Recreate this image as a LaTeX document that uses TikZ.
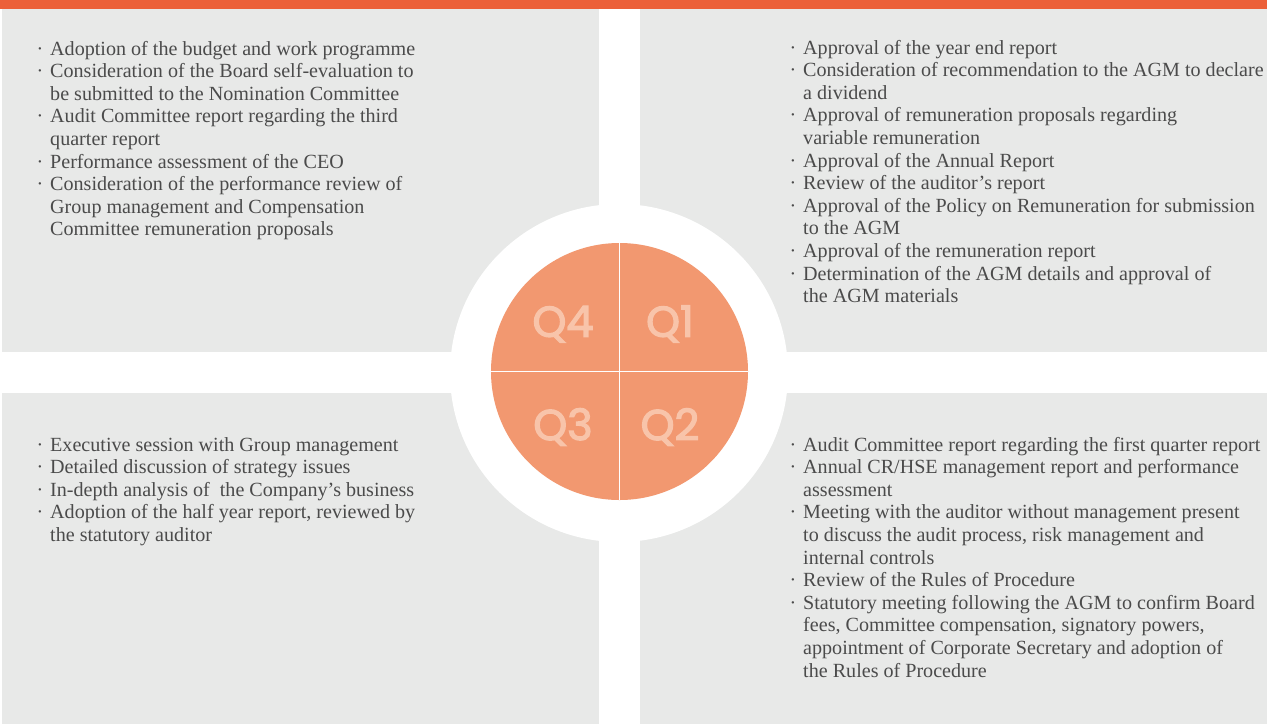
\documentclass[tikz,border=0pt]{standalone}
\usepackage{fontspec}
\setmainfont{Liberation Serif}
\newfontfamily\qfont[FakeBold=3]{Poppins}
\definecolor{barorange}{HTML}{EC6039}
\definecolor{panelgrey}{HTML}{E8E9E8}
\definecolor{discorange}{HTML}{F29870}
\definecolor{qpeach}{HTML}{F8C4AA}
\definecolor{bodytext}{HTML}{4B4B4B}
\newcommand{\bul}{\llap{·\hspace{7pt}}}
% item lists are anchored at the baseline of their last line
\tikzset{
  panel/.style={fill=panelgrey},
  itemlist/.style={anchor=base west, align=left, inner sep=0pt, text=bodytext,
    font=\fontsize{20.1}{22.6}\selectfont},
  quarter/.style={text=qpeach, inner sep=0pt, font=\qfont\fontsize{43}{43}\selectfont}
}
\begin{document}
\begin{tikzpicture}[x=1pt,y=-1pt]
\useasboundingbox (0,0) rectangle (1267,724);
\fill[white] (0,0) rectangle (1267,724);
% header bar and the four grey quadrants
\fill[barorange] (0,0) rectangle (1267,9.3);
\fill[panel] (2,9.3) rectangle (599,352);
\fill[panel] (640,9.3) rectangle (1267,352);
\fill[panel] (2,393) rectangle (599,724);
\fill[panel] (640,393) rectangle (1267,724);
% central year wheel
\node[circle, fill=white, minimum size=338pt, inner sep=0pt] (ring) at (619,373) {};
\node[circle, fill=discorange, minimum size=257pt, inner sep=0pt] (disc) at (619.5,371.5) {};
\draw[white, line width=1.6pt] (disc.west) -- (disc.east);
\draw[white, line width=1.6pt] (disc.north) -- (disc.south);
\node[quarter, anchor=base] (q4) at (563,336.7) {Q4};
\node[quarter, anchor=base] (q1) at (670,336.7) {Q1};
\node[quarter, anchor=base] (q3) at (563,440) {Q3};
\node[quarter, anchor=base] (q2) at (670,440) {Q2};
% agenda items per quarter
\node[itemlist] (q4items) at (50,235.8) {%
\bul Adoption of the budget and work programme\\
\bul Consideration of the Board self-evaluation to\\
be submitted to the Nomination Committee\\
\bul Audit Committee report regarding the third\\
quarter report\\
\bul Performance assessment of the CEO\\
\bul Consideration of the performance review of\\
Group management and Compensation\\
Committee remuneration proposals};
\node[itemlist] (q1items) at (803,302.6) {%
\bul Approval of the year end report\\
\bul Consideration of recommendation to the AGM to declare\\
a dividend\\
\bul Approval of remuneration proposals regarding\\
variable remuneration\\
\bul Approval of the Annual Report\\
\bul Review of the auditor’s report\\
\bul Approval of the Policy on Remuneration for submission\\
to the AGM\\
\bul Approval of the remuneration report\\
\bul Determination of the AGM details and approval of\\
the AGM materials};
\node[itemlist] (q3items) at (50,541.4) {%
\bul Executive session with Group management\\
\bul Detailed discussion of strategy issues\\
\bul In-depth analysis of \ the Company’s business\\
\bul Adoption of the half year report, reviewed by\\
the statutory auditor};
\node[itemlist] (q2items) at (803,677) {%
\bul Audit Committee report regarding the first quarter report\\
\bul Annual CR/HSE management report and performance\\
assessment\\
\bul Meeting with the auditor without management present\\
to discuss the audit process, risk management and\\
internal controls\\
\bul Review of the Rules of Procedure\\
\bul Statutory meeting following the AGM to confirm Board\\
fees, Committee compensation, signatory powers,\\
appointment of Corporate Secretary and adoption of\\
the Rules of Procedure};
\end{tikzpicture}
\end{document}
